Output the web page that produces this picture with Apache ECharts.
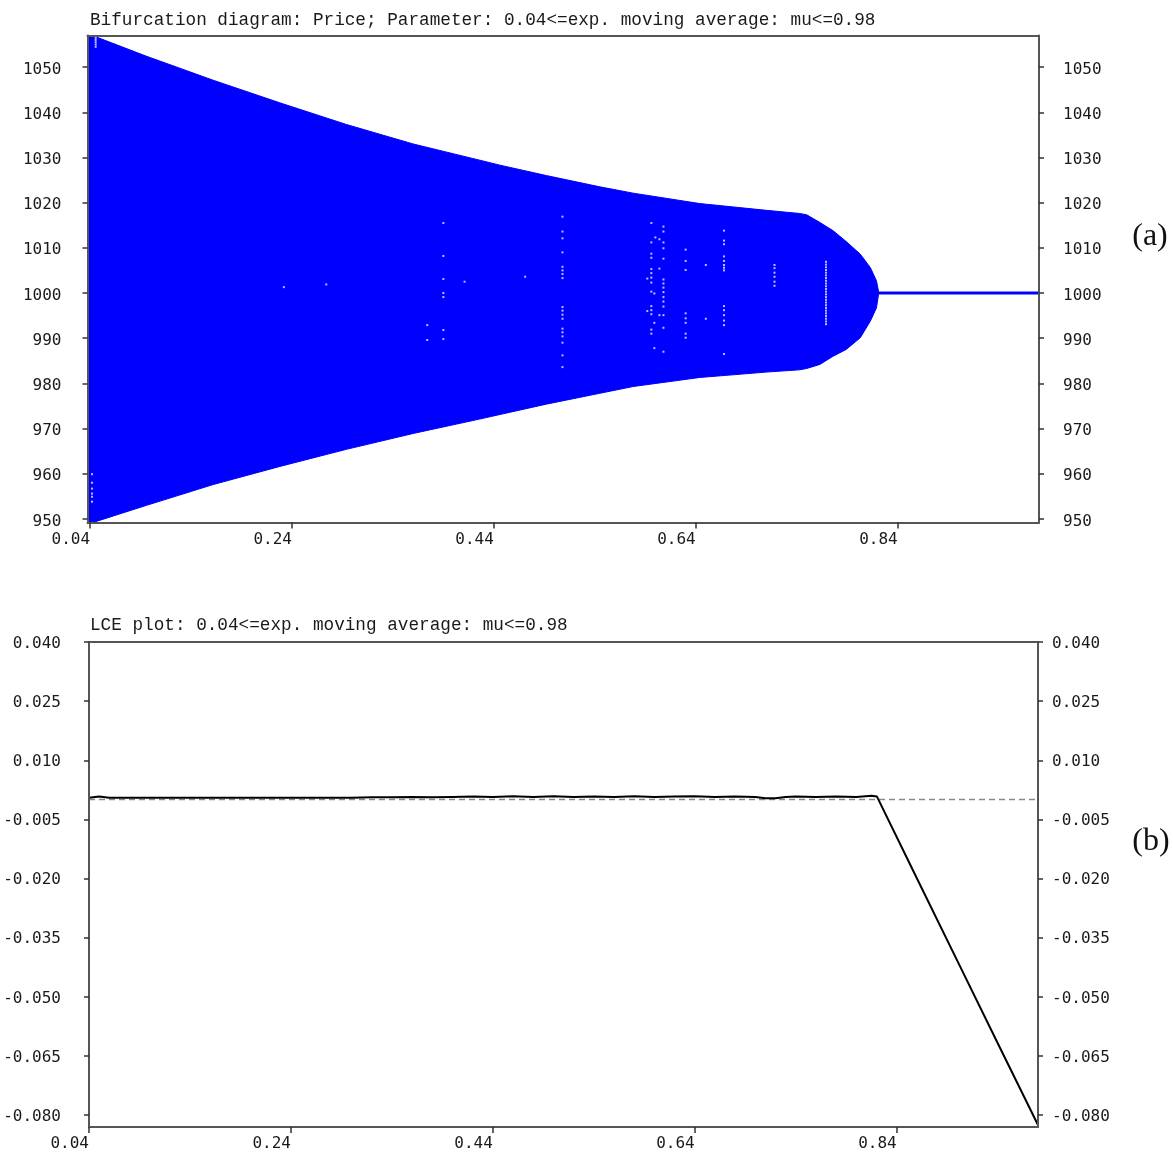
<!DOCTYPE html>
<html>
<head>
<meta charset="utf-8">
<script src="https://cdn.jsdelivr.net/npm/echarts@6/dist/echarts.min.js"></script>
<style>
html,body{margin:0;padding:0;background:#fff;}
#chart{width:1173px;height:1153px;}
</style>
</head>
<body>
<div id="chart"></div>
<script>
// ---------- data ----------
const titleTop = 'Bifurcation diagram: Price; Parameter: 0.04<=exp. moving average: mu<=0.98';
const titleBottom = 'LCE plot: 0.04<=exp. moving average: mu<=0.98';
const xTicks = [0.04, 0.24, 0.44, 0.64, 0.84];
const priceTicks = [950, 960, 970, 980, 990, 1000, 1010, 1020, 1030, 1040, 1050];
const lceTicks = [0.04, 0.025, 0.01, -0.005, -0.02, -0.035, -0.05, -0.065, -0.08];

// envelope of the bifurcation cloud (parameter mu, upper and lower price)
const mu = [0.0375, 0.043, 0.047, 0.096, 0.162, 0.228, 0.294, 0.360, 0.426, 0.446, 0.492, 0.545, 0.578, 0.644, 0.710, 0.743, 0.750, 0.763, 0.776, 0.789, 0.803, 0.813, 0.819, 0.821];
const priceUpper = [1057, 1056.9, 1056.6, 1052.4, 1047.1, 1042.1, 1037.3, 1033.0, 1029.4, 1028.3, 1026.0, 1023.5, 1022.1, 1019.8, 1018.3, 1017.6, 1017.3, 1015.6, 1013.8, 1011.4, 1008.6, 1005.6, 1002.7, 1000.4];
const priceLower = [949.2, 949.2, 949.5, 953.0, 957.6, 961.6, 965.4, 968.9, 972.1, 973.1, 975.4, 977.8, 979.3, 981.3, 982.5, 983.0, 983.3, 984.2, 986.0, 987.5, 990.1, 993.8, 996.7, 999.6];

// stable fixed point after the bifurcation
const fixedMu = [0.821, 0.98];
const fixedPrice = [1000, 1000];

// white gaps (unvisited points) inside the cloud, per column
const gapMu = [0.042, 0.0456, 0.232, 0.274, 0.374, 0.390, 0.411, 0.471, 0.508, 0.592, 0.596, 0.599, 0.600, 0.604, 0.608, 0.630, 0.650, 0.668, 0.718, 0.769];
const gapPrices = [
  [959.9, 958.0, 956.7, 955.6, 954.9, 953.8],
  [1056.5, 1056.0, 1055.5, 1055.0, 1054.5],
  [1001.3],
  [1001.9],
  [992.9, 989.6],
  [1015.5, 1008.2, 1003.1, 1000.0, 999.1, 991.8, 989.8],
  [1002.5],
  [1003.6],
  [1016.9, 1013.6, 1012.1, 1009.0, 1005.8, 1005.0, 1004.2, 1003.3, 996.9, 996.1, 995.2, 994.3, 992.1, 991.3, 990.4, 989.0, 986.2, 983.6],
  [1003.2, 996.0],
  [1015.5, 1011.2, 1008.7, 1007.8, 1005.3, 1004.4, 1003.4, 1002.3, 1000.3, 997.1, 996.2, 995.3, 991.9, 991.0],
  [999.9, 993.4, 987.8],
  [1012.3],
  [1011.9, 1005.4, 995.1],
  [1014.7, 1013.6, 1011.2, 1009.9, 1007.6, 1003.0, 1002.1, 1001.2, 1000.2, 999.1, 998.1, 997.0, 995.1, 992.3, 987.0],
  [1009.6, 1007.1, 1005.1, 995.5, 994.4, 993.4, 991.0, 990.1],
  [1006.2, 994.3],
  [1013.8, 1011.6, 1010.8, 1008.1, 1007.1, 1006.2, 1005.6, 1005.0, 997.1, 996.2, 995.1, 993.9, 992.9, 986.5],
  [1006.2, 1005.5, 1004.5, 1003.6, 1002.5, 1001.6],
  [1006.9, 1006.3, 1005.7, 1005.1, 1004.5, 1003.9, 1003.3, 1002.7, 1002.1, 1001.5, 1000.9, 1000.3, 999.7, 999.1, 998.5, 997.9, 997.3, 996.7, 996.1, 995.5, 994.9, 994.3, 993.7, 993.1]
];

// largest characteristic exponent
const lceMu = [0.04, 0.05, 0.06, 0.08, 0.10, 0.12, 0.14, 0.16, 0.18, 0.20, 0.22, 0.24, 0.26, 0.28, 0.30, 0.32, 0.34, 0.36, 0.38, 0.40, 0.42, 0.44, 0.46, 0.48, 0.50, 0.52, 0.54, 0.56, 0.58, 0.60, 0.62, 0.64, 0.66, 0.68, 0.70, 0.71, 0.72, 0.73, 0.74, 0.76, 0.78, 0.80, 0.815, 0.8205, 0.86, 0.90, 0.94, 0.98];
const lceValue = [0.0005, 0.0008, 0.0005, 0.0005, 0.0005, 0.0005, 0.0005, 0.0005, 0.0005, 0.0005, 0.0005, 0.0005, 0.0005, 0.0005, 0.0005, 0.0006, 0.0006, 0.0007, 0.0006, 0.0007, 0.0008, 0.0007, 0.0009, 0.0007, 0.0009, 0.0007, 0.0008, 0.0007, 0.0009, 0.0007, 0.0008, 0.0009, 0.0007, 0.0008, 0.0007, 0.0004, 0.0004, 0.0007, 0.0008, 0.0007, 0.0008, 0.0007, 0.0010, 0.0008, -0.0199, -0.0408, -0.0617, -0.0825];

// ---------- chart ----------
const AX = '#555';
const LABEL_FONT = '"DejaVu Sans Mono", monospace';
const LABEL_SIZE = 16;
const chart = echarts.init(document.getElementById('chart'), null, {renderer: 'canvas'});

function xAxisPair(grid, min, max) {
  const lbl = {
    show: true, customValues: xTicks, formatter: v => v.toFixed(2),
    align: 'right', margin: 9, fontFamily: LABEL_FONT, fontSize: LABEL_SIZE, color: '#1a1a1a'
  };
  return [
    {type: 'value', gridIndex: grid, min, max, position: 'bottom',
     axisLine: {show: true, onZero: false, lineStyle: {color: AX, width: 2}},
     axisTick: {show: true, customValues: xTicks, length: 6, lineStyle: {color: '#333', width: 1.5}},
     axisLabel: lbl, splitLine: {show: false}, z: 10},
    {type: 'value', gridIndex: grid, min, max, position: 'top',
     axisLine: {show: true, onZero: false, lineStyle: {color: AX, width: 2}},
     axisTick: {show: false}, axisLabel: {show: false}, splitLine: {show: false}, z: 10}
  ];
}
function yAxisPair(grid, min, max, ticks, fmt, mLeft, mRight, drop) {
  const base = (pos, margin) => ({
    type: 'value', gridIndex: grid, min, max, position: pos,
    axisLine: {show: true, onZero: false, lineStyle: {color: AX, width: 2}},
    axisTick: {show: true, customValues: ticks, length: 5, lineStyle: {color: '#333', width: 1.5}},
    axisLabel: {show: true, customValues: ticks, formatter: fmt, margin,
      fontFamily: LABEL_FONT, fontSize: LABEL_SIZE, color: '#1a1a1a',
      verticalAlign: 'top', lineHeight: drop},
    splitLine: {show: false}, z: 10
  });
  return [base('left', mLeft), base('right', mRight)];
}

const gapData = [];
gapMu.forEach((m, i) => gapPrices[i].forEach(p => gapData.push([m, p])));

const option = {
  animation: false,
  backgroundColor: '#fff',
  grid: [
    {left: 87.5, right: 134, top: 35.5, height: 487},
    {left: 89, right: 135, top: 642, height: 485}
  ],
  xAxis: [].concat(xAxisPair(0, 0.0375, 0.98), xAxisPair(1, 0.04, 0.98)),
  yAxis: [].concat(
    yAxisPair(0, 949.2, 1057, priceTicks, v => String(Math.round(v)), 26, 24, 5),
    yAxisPair(1, -0.083, 0.04, lceTicks, v => v.toFixed(3), 28, 14, 3)
  ),
  series: [
    {
      type: 'custom', xAxisIndex: 0, yAxisIndex: 0, clip: true, silent: true,
      data: [[mu[0], priceUpper[0]]],
      renderItem: function (params, api) {
        const up = mu.map((m, i) => api.coord([m, priceUpper[i]]));
        const lo = mu.map((m, i) => api.coord([m, priceLower[i]])).reverse();
        return {type: 'polygon', shape: {points: up.concat(lo)},
          style: {fill: '#0000ff', stroke: '#0000ff', lineWidth: 1}};
      }
    },
    {
      type: 'line', xAxisIndex: 0, yAxisIndex: 0, symbol: 'none', silent: true,
      data: fixedMu.map((m, i) => [m, fixedPrice[i]]),
      lineStyle: {color: '#0000ff', width: 3}
    },
    {
      type: 'scatter', xAxisIndex: 0, yAxisIndex: 0, silent: true,
      symbol: 'rect', symbolSize: 2, data: gapData,
      itemStyle: {color: '#eeeeff'}
    },
    {
      type: 'line', xAxisIndex: 2, yAxisIndex: 2, symbol: 'none', silent: true,
      data: lceMu.map((m, i) => [m, lceValue[i]]),
      lineStyle: {color: '#000', width: 2}, z: 5,
      markLine: {
        silent: true, symbol: 'none', label: {show: false},
        lineStyle: {color: '#8a8a8a', type: [6, 4], width: 1.3},
        data: [{yAxis: 0}]
      }
    }
  ],
  graphic: [
    {type: 'text', x: 90, y: 20, style: {text: titleTop, font: '17.7px "Liberation Mono"', fill: '#1a1a1a', verticalAlign: 'middle'}},
    {type: 'text', x: 90, y: 625, style: {text: titleBottom, font: '17.7px "Liberation Mono"', fill: '#1a1a1a', verticalAlign: 'middle'}},
    {type: 'text', x: 1150, y: 237, style: {text: '(a)', font: '32px "Liberation Serif"', fill: '#111', align: 'center', verticalAlign: 'middle'}},
    {type: 'text', x: 1151, y: 842, style: {text: '(b)', font: '32px "Liberation Serif"', fill: '#111', align: 'center', verticalAlign: 'middle'}}
  ]
};
chart.setOption(option);
</script>
</body>
</html>
